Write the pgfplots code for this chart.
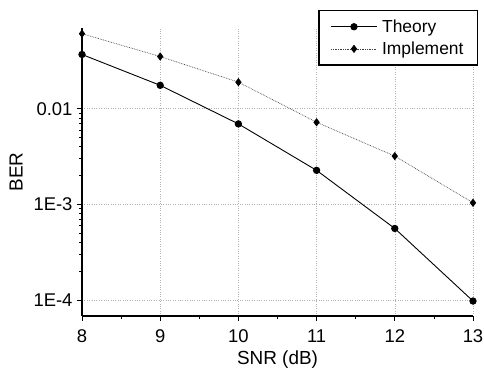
\documentclass[border=0pt]{standalone}
\usepackage{fontspec}
\setmainfont{Liberation Sans}
\usepackage{pgfplots}
\pgfplotsset{compat=1.18}
\begin{document}
\begin{tikzpicture}
\begin{axis}[
  at={(0,0)}, anchor=south west,
  scale only axis,
  width=391bp, height=288bp,
  ymode=log,
  xmin=8, xmax=13,
  ymin=6.8e-5, ymax=0.07,
  axis x line=bottom, axis y line=left,
  axis line style={-, line width=1.4pt, black},
  xtick={8,9,10,11,12,13},
  minor xtick={8.5,9.5,10.5,11.5,12.5},
  ytick={1e-4,1e-3,1e-2},
  yticklabels={1E-4,1E-3,0.01},
  tick align=outside,
  major tick length=5bp, minor tick length=3bp,
  tick style={black, line width=0.8pt},
  grid=major,
  major grid style={gray!60, dotted, line width=0.6pt},
  /pgf/number format/assume math mode=true,
  tick label style={font=\fontsize{18.5}{22}\selectfont},
  xticklabel style={yshift=-5bp},
  yticklabel style={xshift=-1bp},
  label style={font=\fontsize{19}{23}\selectfont},
  xlabel={SNR (dB)}, ylabel={BER},
  xlabel style={yshift=-1bp},
  ylabel style={yshift=4bp},
  legend style={at={(rel axis cs:0.604,1.0625)}, anchor=north west,
    draw=black, line width=1.4pt, font=\fontsize{17.5}{21}\selectfont,
    inner xsep=12bp, inner ysep=7bp, row sep=4bp},
  legend cell align=left,
  legend image code/.code={\draw[mark repeat=2,mark phase=2,#1] plot coordinates {(0cm,0cm) (0.8cm,0cm) (1.6cm,0cm)};},
]
\addplot[black, line width=0.9pt, mark=*, mark size=3.2pt] coordinates {
  (8,0.037) (9,0.0176) (10,0.00695) (11,0.00227) (12,0.00056) (13,0.0000975)
};
\addlegendentry{\hspace{3bp}Theory\hspace{50bp}}
\addplot[black!75, line width=0.7pt, densely dotted, mark=diamond*, mark size=3.6pt, mark options={solid, black}] coordinates {
  (8,0.061) (9,0.0352) (10,0.019) (11,0.00723) (12,0.0032) (13,0.00104)
};
\addlegendentry{\hspace{3bp}Implement\hspace{50bp}}
\end{axis}
\pgfresetboundingbox
\path[use as bounding box] (-82bp,-61bp) rectangle (402bp,316bp);
\end{tikzpicture}
\end{document}
